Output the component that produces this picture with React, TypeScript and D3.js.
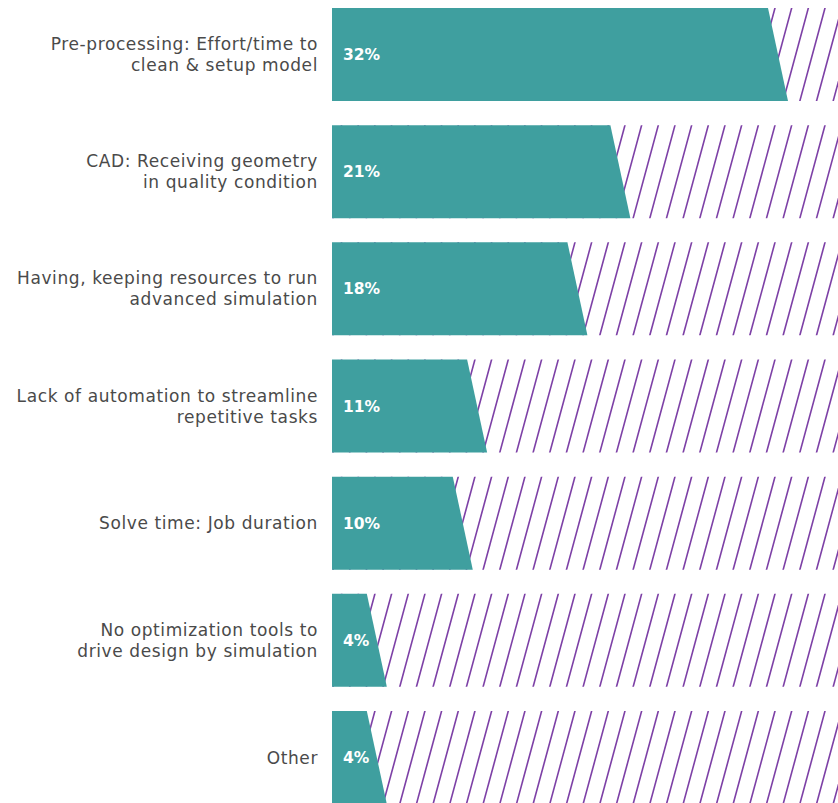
import React from "react";
import * as d3 from "d3";

const categories: string[][] = [
  ["Pre-processing: Effort/time to", "clean & setup model"],
  ["CAD: Receiving geometry", "in quality condition"],
  ["Having, keeping resources to run", "advanced simulation"],
  ["Lack of automation to streamline", "repetitive tasks"],
  ["Solve time: Job duration"],
  ["No optimization tools to", "drive design by simulation"],
  ["Other"],
];
const values: number[] = [32, 21, 18, 11, 10, 4, 4];
const valueLabels: string[] = ["32%", "21%", "18%", "11%", "10%", "4%", "4%"];

const W = 838;
const H = 803;
const BAR_LEFT = 332;
const SLANT = 20;
const TEAL = "#3f9f9f";
const PURPLE = "#7d40a6";

export default function App() {
  const keys = categories.map((_, i) => String(i));
  const y = d3
    .scaleBand<string>()
    .domain(keys)
    .range([8, 804])
    .paddingInner(0.206)
    .paddingOuter(0);
  const x = d3.scaleLinear().domain([0, 32]).range([309.5, 768]);

  const hatchStep = 16.67;
  const hatchTops = d3.range(-40, 60).map((k) => 790 - k * hatchStep).filter((v) => v > BAR_LEFT - 40 && v < W + 60);

  return (
    <svg
      width={W}
      height={H}
      style={{ position: "fixed", left: 0, top: 0, background: "#fff" }}
      fontFamily="'DejaVu Sans', sans-serif"
    >
      <defs>
        {keys.map((k) => (
          <clipPath id={`row-${k}`} key={k}>
            <rect x={BAR_LEFT} y={y(k)!} width={W - BAR_LEFT + 10} height={y.bandwidth()} />
          </clipPath>
        ))}
      </defs>
      {keys.map((k, i) => {
        const y0 = y(k)!;
        const y1 = y0 + y.bandwidth();
        const cy = y0 + y.bandwidth() / 2;
        const xt = x(values[i]);
        const lines = categories[i];
        const lh = 21;
        const startY = cy - ((lines.length - 1) * lh) / 2;
        const dx = 23;
        return (
          <g key={k}>
            <g clipPath={`url(#row-${k})`}>
              {hatchTops.map((t, j) => (
                <line
                  key={j}
                  x1={t + dx * 0.1}
                  y1={y0 - 2.3}
                  x2={t - dx * 1.03}
                  y2={y1 + 0.7}
                  stroke={PURPLE}
                  strokeWidth={1.6}
                />
              ))}
            </g>
            <path
              d={`M${BAR_LEFT},${y0}L${xt},${y0}L${xt + SLANT},${y1}L${BAR_LEFT},${y1}Z`}
              fill={TEAL}
            />
            <text
              x={343}
              y={cy}
              dy="0.36em"
              fill="#fff"
              fontWeight={700}
              fontSize={15.5}
            >
              {valueLabels[i]}
            </text>
            {lines.map((ln, li) => (
              <text
                key={li}
                x={318}
                y={startY + li * lh}
                dy="0.36em"
                textAnchor="end"
                fill="#4a4a4a"
                fontSize={17}
                letterSpacing={0.6}
              >
                {ln}
              </text>
            ))}
          </g>
        );
      })}
    </svg>
  );
}
